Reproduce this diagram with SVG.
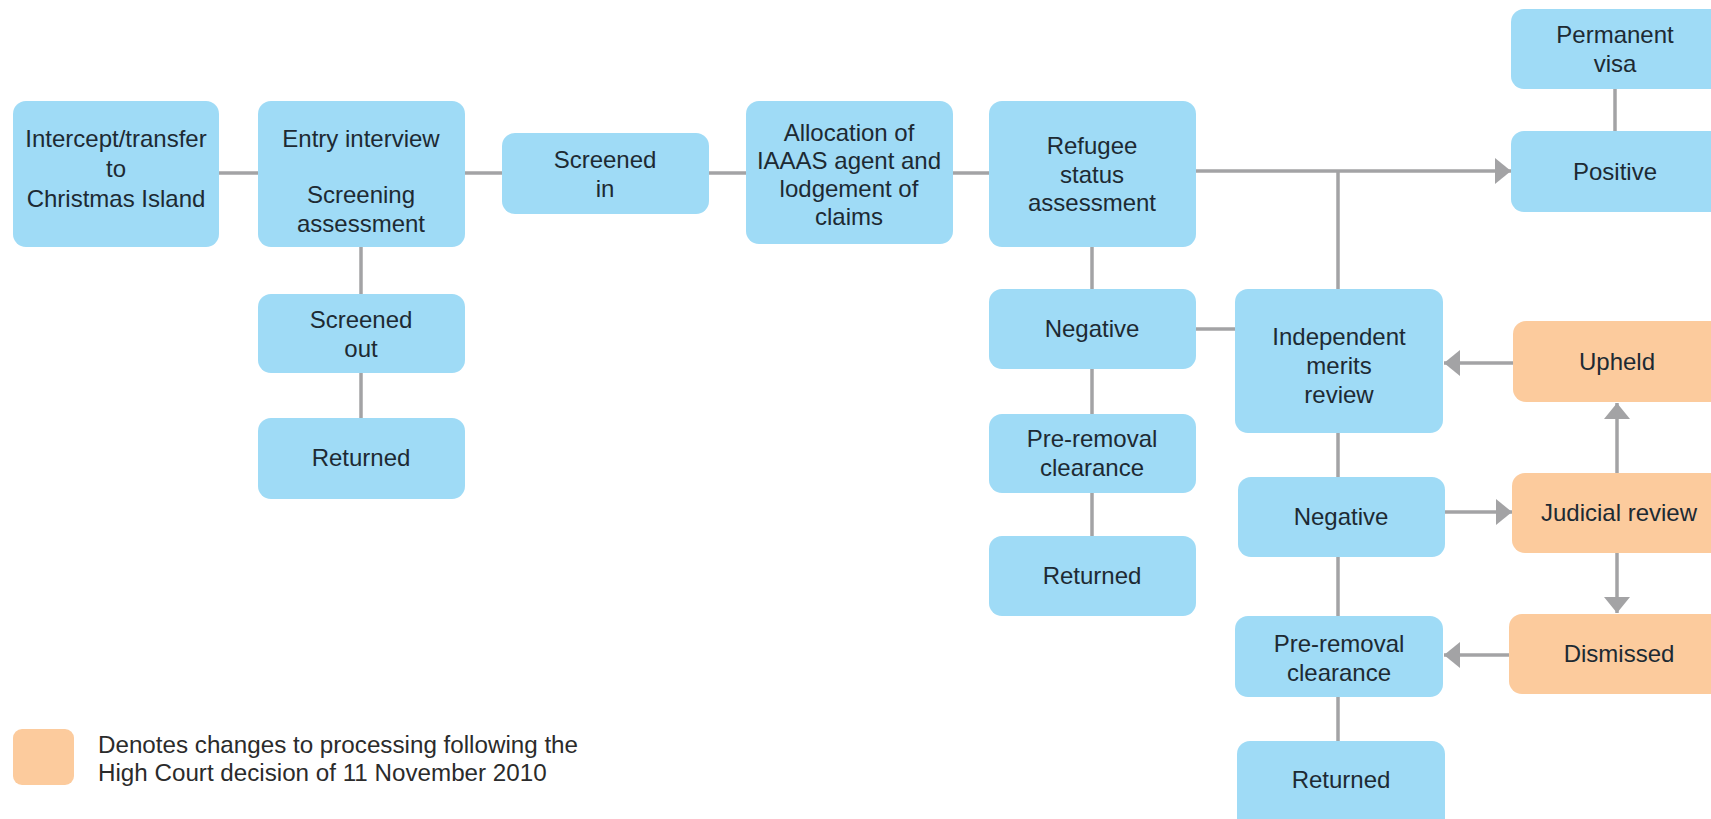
<svg xmlns="http://www.w3.org/2000/svg" width="1711" height="819" viewBox="0 0 1711 819">
<style>
.n{fill:#9fdbf6}
.o{fill:#fccb9d}
.t{font-family:"Liberation Sans",Arial,sans-serif;font-size:24px;fill:#1d2a33;text-anchor:middle}
.lg{font-family:"Liberation Sans",Arial,sans-serif;font-size:24.2px;fill:#2b2b2b}
.c{stroke:#a3a3a5;stroke-width:3.5;fill:none}
.a{marker-end:url(#ah)}
</style>
<defs>
<marker id="ah" markerUnits="userSpaceOnUse" markerWidth="16" markerHeight="26" refX="16" refY="13" orient="auto" viewBox="0 0 16 26">
<path d="M0,0 L16,13 L0,26 z" fill="#a3a3a5"/>
</marker>
</defs>
<rect width="1711" height="819" fill="#ffffff"/>
<g id="connectors">
<line class="c" x1="219" y1="173" x2="258" y2="173"/>
<line class="c" x1="465" y1="173" x2="502" y2="173"/>
<line class="c" x1="709" y1="173" x2="746" y2="173"/>
<line class="c" x1="953" y1="173" x2="989" y2="173"/>
<line class="c a" x1="1196" y1="171" x2="1511" y2="171"/>
<line class="c" x1="1338" y1="171" x2="1338" y2="289"/>
<line class="c" x1="1615" y1="89" x2="1615" y2="131"/>
<line class="c" x1="361" y1="247" x2="361" y2="294"/>
<line class="c" x1="361" y1="373" x2="361" y2="418"/>
<line class="c" x1="1092" y1="247" x2="1092" y2="289"/>
<line class="c" x1="1092" y1="369" x2="1092" y2="414"/>
<line class="c" x1="1092" y1="493" x2="1092" y2="536"/>
<line class="c" x1="1196" y1="329" x2="1235" y2="329"/>
<line class="c" x1="1338" y1="433" x2="1338" y2="477"/>
<line class="c" x1="1338" y1="557" x2="1338" y2="616"/>
<line class="c" x1="1338" y1="697" x2="1338" y2="741"/>
<line class="c a" x1="1513" y1="363" x2="1444" y2="363"/>
<line class="c a" x1="1445" y1="512" x2="1512" y2="512"/>
<line class="c a" x1="1617" y1="473" x2="1617" y2="403"/>
<line class="c a" x1="1617" y1="553" x2="1617" y2="613"/>
<line class="c a" x1="1509" y1="655" x2="1444" y2="655"/>
</g>
<g id="intercept"><rect class="n" x="13" y="101" width="206" height="146" rx="13"/>
<text class="t" x="116" y="147">Intercept/transfer</text><text class="t" x="116" y="177">to</text><text class="t" x="116" y="207">Christmas Island</text></g>
<g id="entry"><rect class="n" x="258" y="101" width="207" height="146" rx="13"/>
<text class="t" x="361" y="147">Entry interview</text><text class="t" x="361" y="203">Screening</text><text class="t" x="361" y="232">assessment</text></g>
<g id="screened-in"><rect class="n" x="502" y="133" width="207" height="81" rx="13"/>
<text class="t" x="605" y="168">Screened</text><text class="t" x="605" y="197">in</text></g>
<g id="allocation"><rect class="n" x="746" y="101" width="207" height="143" rx="13"/>
<text class="t" x="849" y="141">Allocation of</text><text class="t" x="849" y="169">IAAAS agent and</text><text class="t" x="849" y="197">lodgement of</text><text class="t" x="849" y="225">claims</text></g>
<g id="refugee"><rect class="n" x="989" y="101" width="207" height="146" rx="13"/>
<text class="t" x="1092" y="154">Refugee</text><text class="t" x="1092" y="183">status</text><text class="t" x="1092" y="211">assessment</text></g>
<g id="permanent-visa"><rect class="n" x="1511" y="9" width="215" height="80" rx="13"/>
<text class="t" x="1615" y="43">Permanent</text><text class="t" x="1615" y="72">visa</text></g>
<g id="positive"><rect class="n" x="1511" y="131" width="215" height="81" rx="13"/>
<text class="t" x="1615" y="180">Positive</text></g>
<g id="screened-out"><rect class="n" x="258" y="294" width="207" height="79" rx="13"/>
<text class="t" x="361" y="328">Screened</text><text class="t" x="361" y="357">out</text></g>
<g id="returned-1"><rect class="n" x="258" y="418" width="207" height="81" rx="13"/>
<text class="t" x="361" y="466">Returned</text></g>
<g id="negative-1"><rect class="n" x="989" y="289" width="207" height="80" rx="13"/>
<text class="t" x="1092" y="337">Negative</text></g>
<g id="pre-removal-1"><rect class="n" x="989" y="414" width="207" height="79" rx="13"/>
<text class="t" x="1092" y="447">Pre-removal</text><text class="t" x="1092" y="476">clearance</text></g>
<g id="returned-2"><rect class="n" x="989" y="536" width="207" height="80" rx="13"/>
<text class="t" x="1092" y="584">Returned</text></g>
<g id="independent-review"><rect class="n" x="1235" y="289" width="208" height="144" rx="13"/>
<text class="t" x="1339" y="345">Independent</text><text class="t" x="1339" y="374">merits</text><text class="t" x="1339" y="403">review</text></g>
<g id="negative-2"><rect class="n" x="1238" y="477" width="207" height="80" rx="13"/>
<text class="t" x="1341" y="525">Negative</text></g>
<g id="pre-removal-2"><rect class="n" x="1235" y="616" width="208" height="81" rx="13"/>
<text class="t" x="1339" y="652">Pre-removal</text><text class="t" x="1339" y="681">clearance</text></g>
<g id="returned-3"><rect class="n" x="1237" y="741" width="208" height="90" rx="13"/>
<text class="t" x="1341" y="788">Returned</text></g>
<g id="upheld"><rect class="o" x="1513" y="321" width="215" height="81" rx="13"/>
<text class="t" x="1617" y="370">Upheld</text></g>
<g id="judicial-review"><rect class="o" x="1512" y="473" width="215" height="80" rx="13"/>
<text class="t" x="1619" y="521">Judicial review</text></g>
<g id="dismissed"><rect class="o" x="1509" y="614" width="215" height="80" rx="13"/>
<text class="t" x="1619" y="662">Dismissed</text></g>
<g id="legend"><rect class="o" x="13" y="729" width="61" height="56" rx="9"/>
<text class="lg" x="98" y="753">Denotes changes to processing following the</text>
<text class="lg" x="98" y="781">High Court decision of 11 November 2010</text></g>
</svg>
